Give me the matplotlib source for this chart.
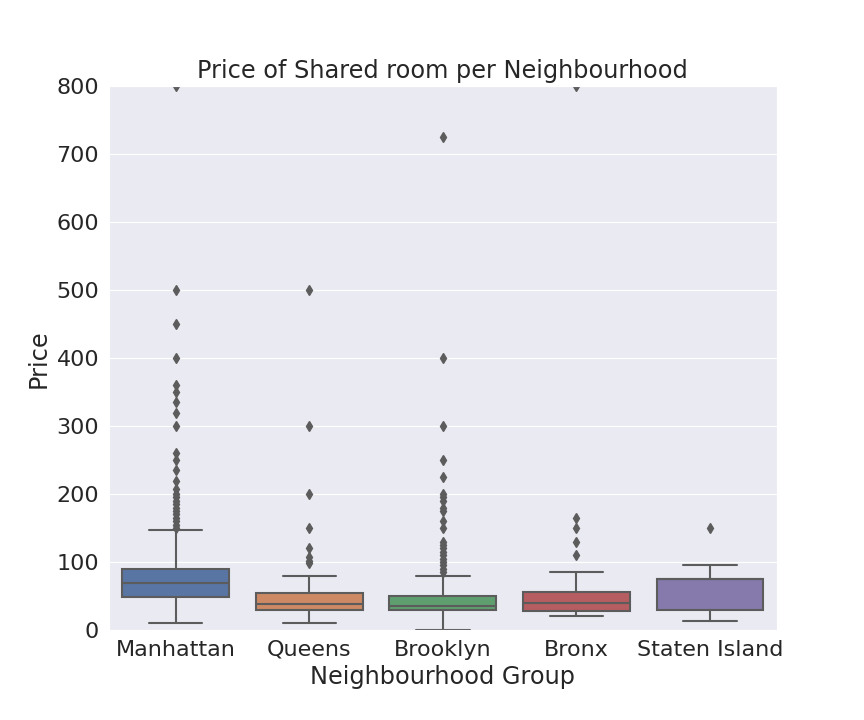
import matplotlib
matplotlib.use("Agg")
import matplotlib.pyplot as plt
import seaborn as sns

# Box statistics (Shared room prices)
groups = ['Manhattan', 'Queens', 'Brooklyn', 'Bronx', 'Staten Island']
whisker_low = [10, 10, 0, 21, 13]
q1 = [49, 30, 30, 28, 30]
median = [69, 38, 36, 40, 75]
q3 = [90, 55, 50, 56, 75]
whisker_high = [147, 80, 80, 86, 96]

manhattan_out = [150, 155, 160, 165, 170, 175, 180, 185, 190, 195, 200, 208,
                 220, 235, 250, 260, 300, 320, 335, 350, 360, 400, 450, 500, 800]
queens_out = [99, 102, 108, 120, 150, 200, 300, 500]
brooklyn_out = [85, 90, 95, 100, 105, 110, 115, 120, 125, 130, 150, 160, 175,
                180, 190, 195, 200, 225, 250, 300, 400, 725]
bronx_out = [110, 129, 150, 165, 800]
staten_out = [150]
outliers = [manhattan_out, queens_out, brooklyn_out, bronx_out, staten_out]

sns.set_style("darkgrid")
palette = sns.color_palette("deep", len(groups), desat=0.75)

fig = plt.figure(figsize=(8.64, 7.2), dpi=100)
ax = fig.add_axes([0.126, 0.125, 0.773, 0.755])

stats = []
for i, g in enumerate(groups):
    stats.append({'label': g, 'whislo': whisker_low[i], 'q1': q1[i], 'med': median[i],
                  'q3': q3[i], 'whishi': whisker_high[i], 'fliers': outliers[i]})

gray = '0.36'
bp = ax.bxp(stats, positions=range(len(groups)), widths=0.8, patch_artist=True,
            boxprops=dict(edgecolor=gray, linewidth=1.5),
            medianprops=dict(color=gray, linewidth=1.5),
            whiskerprops=dict(color=gray, linewidth=1.5),
            capprops=dict(color=gray, linewidth=1.5),
            flierprops=dict(marker='d', markerfacecolor=gray, markeredgecolor=gray,
                            markersize=5, linestyle='none'))
for patch, c in zip(bp['boxes'], palette):
    patch.set_facecolor(c)

ax.set_xlim(-0.5, 4.5)
ax.set_ylim(0, 800)
ax.set_xticks(range(len(groups)))
ax.set_xticklabels(groups)
ax.xaxis.grid(False)
ax.tick_params(labelsize=16)
ax.set_title("Price of Shared room per Neighbourhood", fontsize=17.3)
ax.set_xlabel("Neighbourhood Group", fontsize=17.3)
ax.set_ylabel("Price", fontsize=17.3)

fig.savefig("out.png", dpi=100)
